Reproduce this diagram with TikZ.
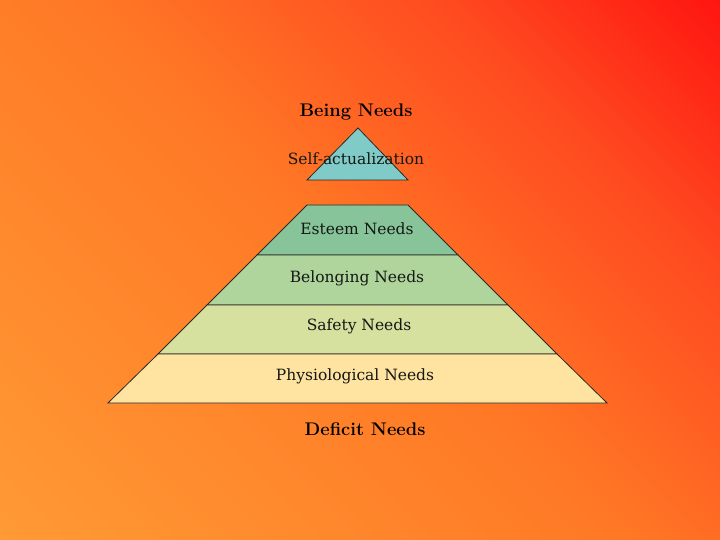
\documentclass[tikz,border=0pt]{standalone}
\usepackage{fontspec}
\newfontfamily\lblfont{DejaVu Serif}
\definecolor{bgred}{HTML}{FF1510}
\definecolor{bgred2}{HTML}{FF4A20}
\definecolor{bgmid}{HTML}{FF7825}
\definecolor{bgorange}{HTML}{FF9A35}
\definecolor{topcol}{HTML}{80CBC8}
\definecolor{esteemcol}{HTML}{88C49A}
\definecolor{belongcol}{HTML}{AFD49C}
\definecolor{safetycol}{HTML}{D6E09F}
\definecolor{physcol}{HTML}{FFE3A0}
\definecolor{txtcol}{HTML}{141814}
\definecolor{edgecol}{HTML}{2A2A22}
\pgfdeclarehorizontalshading{bgshade}{100bp}{color(0bp)=(bgorange); color(14.6bp)=(bgorange); color(50bp)=(bgmid); color(70bp)=(bgred2); color(85.4bp)=(bgred); color(100bp)=(bgred)}
\begin{document}
\begin{tikzpicture}[x=1pt,y=-1pt,
  layer/.style={draw=edgecol,line width=0.8pt,line join=miter},
  lbl/.style={text=txtcol,font=\lblfont\fontsize{15.5}{17}\selectfont,inner sep=0pt},
  head/.style={text=black,font=\fontsize{18.3}{20}\selectfont\bfseries,inner sep=0pt}]
\useasboundingbox (0,0) rectangle (720,540);
\shade[shading=bgshade,shading angle=45] (0,0) rectangle (720,540);
% top triangle
\draw[layer,fill=topcol] (358,128) -- (408,180) -- (307,180) -- cycle;
% pyramid layers
\draw[layer,fill=esteemcol] (307,205) -- (408,205) -- (458,255) -- (257,255) -- cycle;
\draw[layer,fill=belongcol] (257,255) -- (458,255) -- (508,305) -- (207,305) -- cycle;
\draw[layer,fill=safetycol] (207,305) -- (508,305) -- (557,354) -- (158,354) -- cycle;
\draw[layer,fill=physcol] (158,354) -- (557,354) -- (607,403) -- (108,403) -- cycle;
% labels
\node[head] (being) at (356,112) {Being Needs};
\node[lbl] (self) at (356,159) {Self-actualization};
\node[lbl] (esteem) at (357,229) {Esteem Needs};
\node[lbl] (belong) at (357,278) {Belonging Needs};
\node[lbl] (safety) at (359,326) {Safety Needs};
\node[lbl] (phys) at (355,376) {Physiological Needs};
\node[head] (deficit) at (365,429) {Deficit Needs};
\end{tikzpicture}
\end{document}
